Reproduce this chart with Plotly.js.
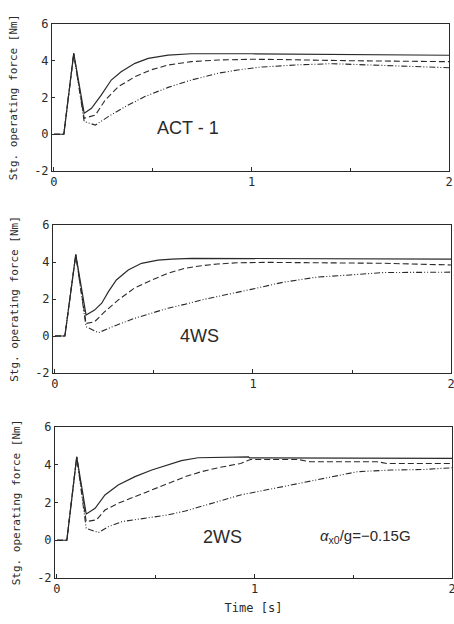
<!DOCTYPE html>
<html>
<head>
<meta charset="utf-8">
<script src="https://cdn.plot.ly/plotly-3.0.1.min.js"></script>
<style>html,body{margin:0;padding:0;background:#fff;}#chart{width:454px;height:624px;}</style>
</head>
<body>
<div id="chart"></div>
<script>
// ---- Data ----
// Panel 1: ACT-1
const act1SolidT = [0,0.05,0.1,0.153,0.19,0.24,0.29,0.34,0.41,0.477,0.578,0.695,1.0,1.5,2.0];
const act1SolidY = [0,0,4.4,1.14,1.41,2.14,2.95,3.4,3.86,4.13,4.31,4.38,4.38,4.35,4.3];
const act1DashT  = [0,0.05,0.1,0.153,0.21,0.26,0.326,0.41,0.49,0.578,0.695,0.83,1.0,1.13,1.5,2.0];
const act1DashY  = [0,0,4.4,0.87,1.05,1.87,2.59,3.13,3.5,3.77,3.95,4.04,4.08,4.07,4.0,3.95];
const act1DdT    = [0,0.05,0.1,0.153,0.21,0.275,0.36,0.46,0.578,0.695,0.83,0.93,1.04,1.24,1.41,1.58,1.75,2.0];
const act1DdY    = [0,0,4.4,0.69,0.5,0.96,1.5,2.05,2.55,2.95,3.32,3.5,3.65,3.78,3.84,3.78,3.69,3.62];
// Panel 2: 4WS
const ws4SolidT = [0,0.05,0.105,0.157,0.2,0.236,0.27,0.31,0.37,0.437,0.52,0.59,0.69,1.0,1.5,2.0];
const ws4SolidY = [0,0,4.4,1.13,1.4,1.77,2.4,3.03,3.57,3.93,4.1,4.16,4.2,4.18,4.17,4.15];
const ws4DashT  = [0,0.05,0.105,0.157,0.2,0.25,0.32,0.4,0.49,0.57,0.655,0.74,0.82,0.92,1.07,1.32,1.66,2.0];
const ws4DashY  = [0,0,4.4,0.68,0.77,1.3,1.95,2.58,3.03,3.39,3.66,3.8,3.89,3.96,3.98,3.96,3.93,3.84];
const ws4DdT    = [0,0.05,0.105,0.157,0.22,0.29,0.4,0.49,0.57,0.655,0.74,0.82,0.92,0.99,1.15,1.32,1.49,1.66,2.0];
const ws4DdY    = [0,0,4.4,0.5,0.18,0.5,0.95,1.23,1.5,1.71,1.95,2.13,2.34,2.52,2.9,3.18,3.3,3.43,3.45];
// Panel 3: 2WS
const ws2SolidT = [0,0.05,0.1,0.148,0.193,0.243,0.31,0.395,0.48,0.56,0.63,0.714,0.97,0.975,1.5,2.0];
const ws2SolidY = [0,0,4.42,1.39,1.69,2.4,2.93,3.37,3.72,3.98,4.22,4.37,4.42,4.36,4.35,4.34];
const ws2DashT  = [0,0.05,0.1,0.148,0.2,0.243,0.31,0.395,0.48,0.56,0.65,0.73,0.815,0.93,0.98,1.22,1.28,1.62,1.67,2.0];
const ws2DashY  = [0,0,4.42,0.99,1.08,1.6,1.96,2.31,2.67,3.02,3.37,3.63,3.84,4.07,4.28,4.28,4.16,4.16,4.07,4.07];
const ws2DdT    = [0,0.05,0.1,0.148,0.21,0.26,0.33,0.395,0.48,0.56,0.65,0.73,0.83,0.93,1.1,1.27,1.44,1.52,1.69,1.86,2.0];
const ws2DdY    = [0,0,4.42,0.63,0.41,0.72,0.99,1.08,1.22,1.34,1.55,1.8,2.1,2.4,2.75,3.1,3.49,3.63,3.72,3.75,3.84];

const panelLabels = ["ACT - 1", "4WS", "2WS"];
const xTickVals = [0, 1, 2];
const xTickText = ["0", "1", "2"];
const yTickVals = [-2, 0, 2, 4, 6];
const yTickText = ["-2", "0", "2", "4", "6"];

// ---- Styling ----
const ink = "#2a2a2a";
const mono = "DejaVu Sans Mono, monospace";
const styles = [
  {color: ink, width: 1.2, dash: "solid"},
  {color: ink, width: 1.1, dash: "6px,3px"},
  {color: ink, width: 1.1, dash: "6px,2px,1px,2px,1px,2px"}
];

function tr(t, y, s, ax) {
  return {x: t, y: y, type: "scatter", mode: "lines", line: styles[s],
          xaxis: "x" + ax, yaxis: "y" + ax, showlegend: false, hoverinfo: "skip"};
}

const data = [
  tr(act1SolidT, act1SolidY, 0, ""), tr(act1DashT, act1DashY, 1, ""), tr(act1DdT, act1DdY, 2, ""),
  tr(ws4SolidT, ws4SolidY, 0, "2"), tr(ws4DashT, ws4DashY, 1, "2"), tr(ws4DdT, ws4DdY, 2, "2"),
  tr(ws2SolidT, ws2SolidY, 0, "3"), tr(ws2DashT, ws2DashY, 1, "3"), tr(ws2DdT, ws2DdY, 2, "3")
];

const W = 454, H = 624;
function xd(l, r) { return [l / W, r / W]; }
function yd(top, bot) { return [1 - bot / H, 1 - top / H]; }

function xaxis(dom, anchor, title) {
  const a = {
    domain: dom, anchor: anchor, range: [-0.01, 2], fixedrange: true,
    tickmode: "array", tickvals: xTickVals, ticktext: xTickText,
    ticks: "inside", ticklen: 4, tickcolor: ink, tickwidth: 1,
    ticklabeloverflow: "allow",
    minor: {tickmode: "array", tickvals: [0.5, 1.5], ticks: "inside", ticklen: 3, tickcolor: ink},
    showline: true, linecolor: ink, linewidth: 1, mirror: true,
    showgrid: false, zeroline: false,
    tickfont: {family: mono, size: 12, color: ink}
  };
  if (title) a.title = {text: title, font: {family: mono, size: 12, color: ink}, standoff: 8};
  return a;
}
function yaxis(dom, anchor) {
  return {
    domain: dom, anchor: anchor, range: [-2, 6], fixedrange: true,
    tickmode: "array", tickvals: yTickVals, ticktext: yTickText,
    ticks: "inside", ticklen: 3, tickcolor: ink, tickwidth: 1,
    showline: true, linecolor: ink, linewidth: 1, mirror: true,
    showgrid: false, zeroline: false,
    tickfont: {family: mono, size: 12, color: ink},
    title: {text: "Stg. operating force [Nm]", font: {family: mono, size: 11, color: ink}, standoff: 14}
  };
}

const layout = {
  width: W, height: H,
  margin: {l: 0, r: 0, t: 0, b: 0},
  paper_bgcolor: "#fff", plot_bgcolor: "#fff",
  xaxis:  xaxis(xd(52, 449), "y"),
  yaxis:  yaxis(yd(24, 171), "x"),
  xaxis2: xaxis(xd(53, 451), "y2"),
  yaxis2: yaxis(yd(225, 373), "x2"),
  xaxis3: xaxis(xd(55, 452), "y3", "Time [s]"),
  yaxis3: yaxis(yd(427, 578), "x3"),
  annotations: [
    {x: 0.68, y: 0.35, xref: "x", yref: "y", text: panelLabels[0], showarrow: false,
     font: {family: "Liberation Sans, Arial, sans-serif", size: 18, color: ink}},
    {x: 0.73, y: 0.0, xref: "x2", yref: "y2", text: panelLabels[1], showarrow: false,
     font: {family: "Liberation Sans, Arial, sans-serif", size: 18, color: ink}},
    {x: 0.84, y: 0.18, xref: "x3", yref: "y3", text: panelLabels[2], showarrow: false,
     font: {family: "Liberation Sans, Arial, sans-serif", size: 18, color: ink}},
    {x: 1.56, y: 0.18, xref: "x3", yref: "y3",
     text: "<i>α</i><sub>x0</sub>/g=−0.15G", showarrow: false,
     font: {family: "Liberation Sans Narrow, Liberation Sans, sans-serif", size: 15, color: ink}}
  ]
};

Plotly.newPlot("chart", data, layout, {displayModeBar: false, staticPlot: true});
</script>
</body>
</html>
